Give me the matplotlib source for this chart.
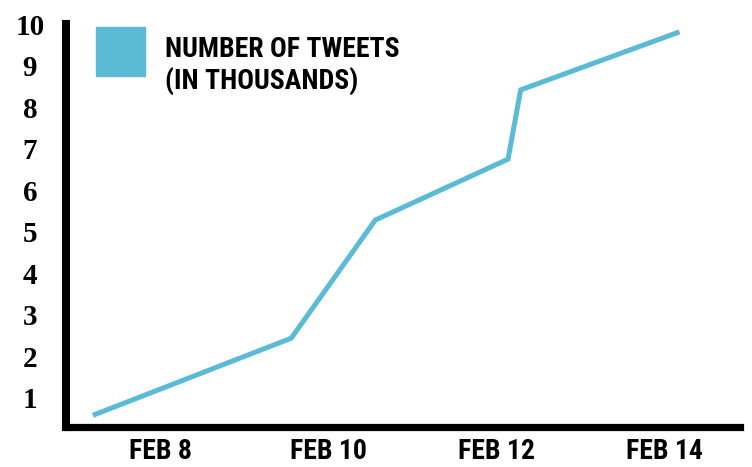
import matplotlib
matplotlib.use("Agg")
import matplotlib.pyplot as plt
from matplotlib.patches import Rectangle

# Data (x in days of February, y in thousands of tweets)
days = [7.20, 9.56, 10.56, 12.14, 12.29, 14.18]
tweets = [0.57, 2.43, 5.28, 6.75, 8.42, 9.82]
x_ticks = [8, 10, 12, 14]
x_labels = ["FEB 8", "FEB 10", "FEB 12", "FEB 14"]
y_ticks = [1, 2, 3, 4, 5, 6, 7, 8, 9, 10]
legend_label = "NUMBER OF TWEETS\n(IN THOUSANDS)"

color = "#5BBAD5"
W, H = 752, 467
fig = plt.figure(figsize=(W / 100, H / 100), dpi=100)
ax = fig.add_axes([66 / W, (H - 426.5) / H, (740 - 66) / W, (426.5 - 24) / H])

ax.plot(days, tweets, color=color, lw=3.6, solid_capstyle="butt", solid_joinstyle="miter")
ax.set_xlim(6.88, 14.90)
ax.set_ylim(0.30, 10.01)

for s in ["top", "right"]:
    ax.spines[s].set_visible(False)
ax.spines["left"].set_linewidth(5.8)
ax.spines["bottom"].set_linewidth(5.2)
ax.spines["left"].set_capstyle("projecting")
ax.spines["bottom"].set_capstyle("projecting")

narrow = ["Roboto Condensed", "DejaVu Sans"]
ax.set_xticks(x_ticks)
ax.set_xticklabels(x_labels, fontfamily=narrow, fontweight="bold", fontsize=20)
ax.set_yticks(y_ticks)
ax.set_yticklabels([str(v) for v in y_ticks], fontfamily=["Liberation Serif", "DejaVu Serif"],
                   fontweight="bold", fontsize=21, ha="center")
ax.tick_params(axis="x", length=0, pad=8)
ax.tick_params(axis="y", length=0, pad=26)

# legend box
fig.patches.append(Rectangle((96 / W, (H - 76) / H), 49 / W, 49 / H,
                             transform=fig.transFigure, color=color))
fig.text(165 / W, (H - 36) / H, legend_label, fontfamily=narrow, fontweight="bold",
         fontsize=20, va="top", ha="left", linespacing=1.18)

fig.savefig("out.png", dpi=100)
